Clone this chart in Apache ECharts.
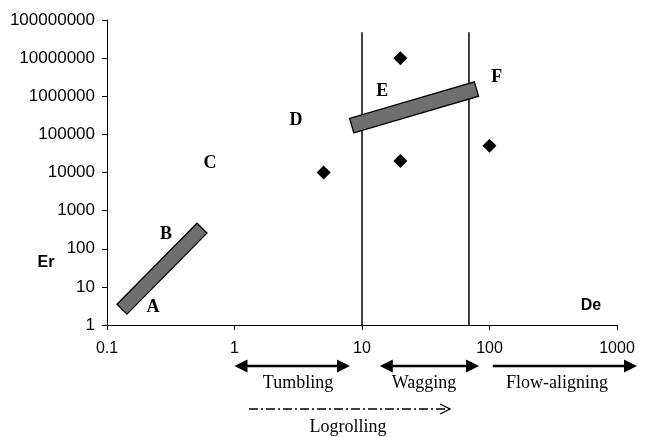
<!DOCTYPE html>
<html><head><meta charset="utf-8">
<script src="https://cdn.jsdelivr.net/npm/echarts@6/dist/echarts.min.js"></script>
<style>html,body{margin:0;padding:0;background:#fff}#c{width:647px;height:437px}</style>
</head><body><div id="c"></div>
<script>
// ---- data ----
const xTickLabels = ['0.1', '1', '10', '100', '1000'];
const yTickLabels = ['1', '10', '100', '1000', '10000', '100000', '1000000', '10000000', '100000000'];
const regimeBoundDe = [10, 69];
const regimeBoundTopEr = 4.8e7;
const pointDe = [5, 20, 20, 100];
const pointEr = [10000, 20000, 10000000, 50000];
const bandStartDe = [0.131, 8.3];
const bandStartEr = [2.6, 170000];
const bandEndDe = [0.556, 79];
const bandEndEr = [346, 1550000];
const letterNames = ['A', 'B', 'C', 'D', 'E', 'F'];
const letterDe = [0.23, 0.29, 0.643, 3.04, 14.4, 114];
const letterEr = [2.9, 242, 17700, 237000, 1370000, 3190000];
const regimeNames = ['Tumbling', 'Wagging', 'Flow-aligning'];
const regimeFromDe = [1, 13.8, 106];
const regimeToDe = [8.05, 82.8, 1435];
const regimeDoubleHeaded = [true, true, false];
const regimeLabelDe = [3.15, 30.6, 338];
const logrollName = 'Logrolling';
const logrollFromDe = 1.3;
const logrollToDe = 49;
const logrollLabelDe = 7.76;

const SANS = "'Liberation Sans', Arial, sans-serif";
const SERIF = "'Liberation Serif', 'Times New Roman', serif";

const chart = echarts.init(document.getElementById('c'), null, {renderer: 'canvas'});

const boundSeries = regimeBoundDe.map(d => ({
  type: 'line', data: [[d, 1], [d, regimeBoundTopEr]], symbol: 'none', silent: true, z: 2,
  lineStyle: {color: '#000', width: 1.5, opacity: 1}, animation: false
}));

const option = {
  animation: false,
  backgroundColor: '#fff',
  grid: {left: 107, right: 30, top: 20, bottom: 112, containLabel: false},
  xAxis: {
    type: 'log', logBase: 10, min: 0.1, max: 1000,
    axisLine: {lineStyle: {color: '#000', width: 1}},
    axisTick: {show: true, inside: false, length: 5, lineStyle: {color: '#000'}},
    minorTick: {show: false},
    splitLine: {show: false},
    axisLabel: {color: '#000', fontFamily: SANS, fontSize: 16, margin: 16,
      formatter: (v) => { const i = Math.round(Math.log10(v)) + 1; return xTickLabels[i] ?? ''; }}
  },
  yAxis: {
    type: 'log', logBase: 10, min: 1, max: 1e8,
    axisLine: {show: true, lineStyle: {color: '#000', width: 1}},
    axisTick: {show: true, inside: false, length: 5, lineStyle: {color: '#000'}},
    splitLine: {show: false},
    axisLabel: {color: '#000', fontFamily: SANS, fontSize: 17, margin: 12,
      formatter: (v) => { const i = Math.round(Math.log10(v)); return yTickLabels[i] ?? ''; }}
  },
  series: [
    ...boundSeries,
    {
      type: 'custom', z: 5, silent: true,
      data: bandStartDe.map((d, i) => [d, bandStartEr[i], bandEndDe[i], bandEndEr[i]]),
      encode: {x: [0, 2], y: [1, 3]},
      renderItem: function (params, api) {
        const p1 = api.coord([api.value(0), api.value(1)]);
        const p2 = api.coord([api.value(2), api.value(3)]);
        const dx = p2[0] - p1[0], dy = p2[1] - p1[1];
        const len = Math.sqrt(dx * dx + dy * dy);
        const hw = params.dataIndex === 0 ? 7 : 7.5;
        const nx = -dy / len * hw, ny = dx / len * hw;
        return {
          type: 'polygon',
          shape: {points: [[p1[0] + nx, p1[1] + ny], [p2[0] + nx, p2[1] + ny], [p2[0] - nx, p2[1] - ny], [p1[0] - nx, p1[1] - ny]]},
          style: {fill: '#6f6f6f', stroke: '#000', lineWidth: 1.3}
        };
      }
    },
    {
      type: 'scatter', z: 6, silent: true, symbol: 'diamond', symbolSize: 14,
      itemStyle: {color: '#000', opacity: 1},
      data: pointDe.map((d, i) => [d, pointEr[i]])
    },
    {
      type: 'scatter', z: 7, silent: true, symbolSize: 0,
      itemStyle: {opacity: 1},
      data: letterDe.map((d, i) => ({value: [d, letterEr[i]], name: letterNames[i]})),
      label: {show: true, position: 'inside', formatter: '{b}', color: '#000', opacity: 1,
        fontFamily: SERIF, fontWeight: 'bold', fontSize: 18}
    }
  ]
};
chart.setOption(option);

// ---- annotations below the axis, placed via the x scale ----
const xp = (v) => chart.convertToPixel({xAxisIndex: 0}, v);
const g = [];
const ARROW_Y = 366, LABEL_Y = 383, LOG_Y = 409, LOG_LABEL_Y = 427;
const headL = 13, headH = 6.5;
function filledHead(tipX, y, dir) {
  return {type: 'polygon', shape: {points: [[tipX, y], [tipX - dir * headL, y - headH], [tipX - dir * headL, y + headH]]},
    style: {fill: '#000'}};
}
regimeNames.forEach((name, i) => {
  const x1 = xp(regimeFromDe[i]), x2 = xp(regimeToDe[i]);
  const sx = regimeDoubleHeaded[i] ? x1 + headL - 1 : x1;
  g.push({type: 'line', shape: {x1: sx, y1: ARROW_Y, x2: x2 - headL + 1, y2: ARROW_Y}, style: {stroke: '#000', lineWidth: 2.5}});
  g.push(filledHead(x2, ARROW_Y, 1));
  if (regimeDoubleHeaded[i]) g.push(filledHead(x1, ARROW_Y, -1));
  g.push({type: 'text', x: xp(regimeLabelDe[i]), y: LABEL_Y,
    style: {text: name, fill: '#000', font: '18px ' + SERIF, textAlign: 'center', textVerticalAlign: 'middle'}});
});
{
  const x1 = xp(logrollFromDe), x2 = xp(logrollToDe);
  g.push({type: 'line', shape: {x1: x1, y1: LOG_Y, x2: x2, y2: LOG_Y},
    style: {stroke: '#000', lineWidth: 1.3, lineDash: [9, 3, 2, 3]}});
  g.push({type: 'polyline', shape: {points: [[x2 - 10, LOG_Y - 5], [x2, LOG_Y], [x2 - 10, LOG_Y + 5]]},
    style: {stroke: '#000', lineWidth: 1.3, fill: null}});
  g.push({type: 'text', x: xp(logrollLabelDe), y: LOG_LABEL_Y,
    style: {text: logrollName, fill: '#000', font: '18px ' + SERIF, textAlign: 'center', textVerticalAlign: 'middle'}});
}
g.push({type: 'text', x: 591, y: 306, style: {text: 'De', fill: '#000', font: 'bold 16px ' + SANS, textAlign: 'center', textVerticalAlign: 'middle'}});
g.push({type: 'text', x: 46, y: 263, style: {text: 'Er', fill: '#000', font: 'bold 16px ' + SANS, textAlign: 'center', textVerticalAlign: 'middle'}});
chart.setOption({graphic: {elements: g}});
</script>
</body></html>
